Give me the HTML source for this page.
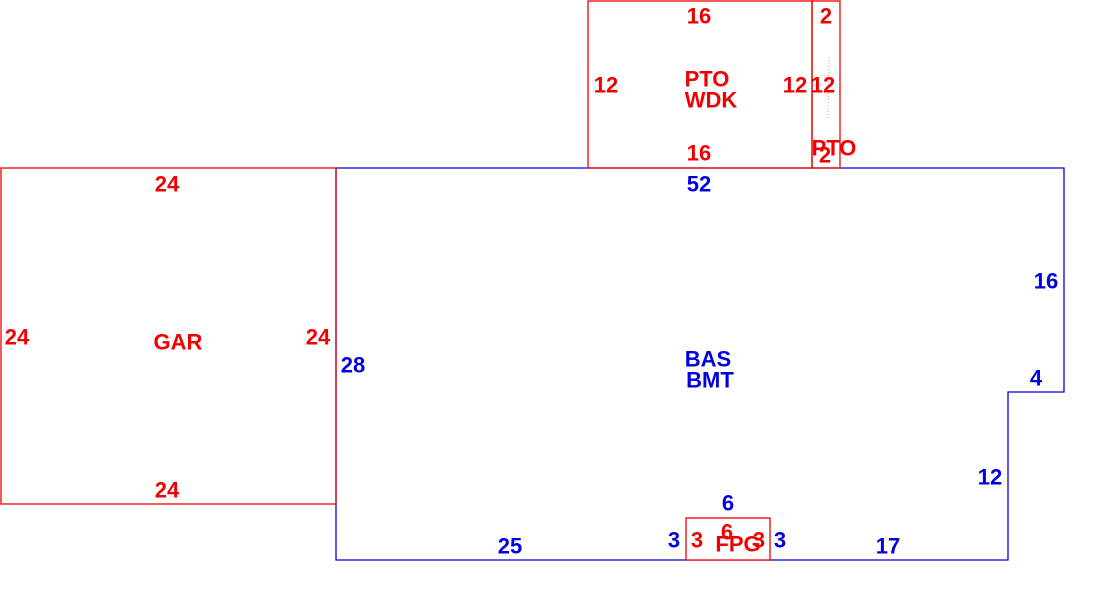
<!DOCTYPE html>
<html><head><meta charset="utf-8"><style>
html,body{margin:0;padding:0;background:#fff;width:1114px;height:610px;overflow:hidden}
svg text{font-family:"Liberation Sans",Arial,sans-serif;font-weight:bold;font-size:22px;text-anchor:middle;dominant-baseline:central}
.r{fill:#f00000}.b{fill:#0000e0}
</style></head><body>
<svg width="1114" height="610" xmlns="http://www.w3.org/2000/svg">
<g fill="none" stroke-width="1.3">
<polyline points="336,168 1064,168 1064,392 1008,392 1008,560 336,560 336,168" stroke="#0000e0"/>
<rect x="1" y="168" width="335" height="336" stroke="#f00000"/>
<rect x="588" y="1" width="224" height="167" stroke="#f00000"/>
<rect x="812" y="1" width="28" height="167" stroke="#f00000"/>
<rect x="686" y="518" width="84" height="42" stroke="#f00000" fill="#fff"/>
<line x1="829" y1="57" x2="828" y2="118" stroke="#f08080" stroke-width="0.8" stroke-dasharray="1,2"/>
</g>
<g transform="translate(0,1)">
<text class="r" x="699" y="15">16</text>
<text class="r" x="826" y="15">2</text>
<text class="r" x="606" y="84">12</text>
<text class="r" x="707" y="78">PTO</text>
<text class="r" x="711" y="99">WDK</text>
<text class="r" x="795" y="84">12</text>
<text class="r" x="823" y="84">12</text>
<text class="r" x="699" y="152">16</text>
<text class="r" x="834" y="147">PTO</text>
<text class="r" x="825" y="154">2</text>
<text class="b" x="699" y="183">52</text>
<text class="r" x="167" y="183">24</text>
<text class="r" x="17" y="336">24</text>
<text class="r" x="178" y="341">GAR</text>
<text class="r" x="318" y="336">24</text>
<text class="b" x="353" y="364">28</text>
<text class="r" x="167" y="489">24</text>
<text class="b" x="708" y="358">BAS</text>
<text class="b" x="710" y="379">BMT</text>
<text class="b" x="1046" y="280">16</text>
<text class="b" x="1036" y="377">4</text>
<text class="b" x="990" y="476">12</text>
<text class="b" x="728" y="502">6</text>
<text class="b" x="674" y="539">3</text>
<text class="r" x="697" y="539">3</text>
<text class="r" x="727" y="531">6</text>
<text class="r" x="738" y="543">FPG</text>
<text class="r" x="759" y="539">3</text>
<text class="b" x="780" y="539">3</text>
<text class="b" x="510" y="545">25</text>
<text class="b" x="888" y="545">17</text>
</g>
</svg>
</body></html>
